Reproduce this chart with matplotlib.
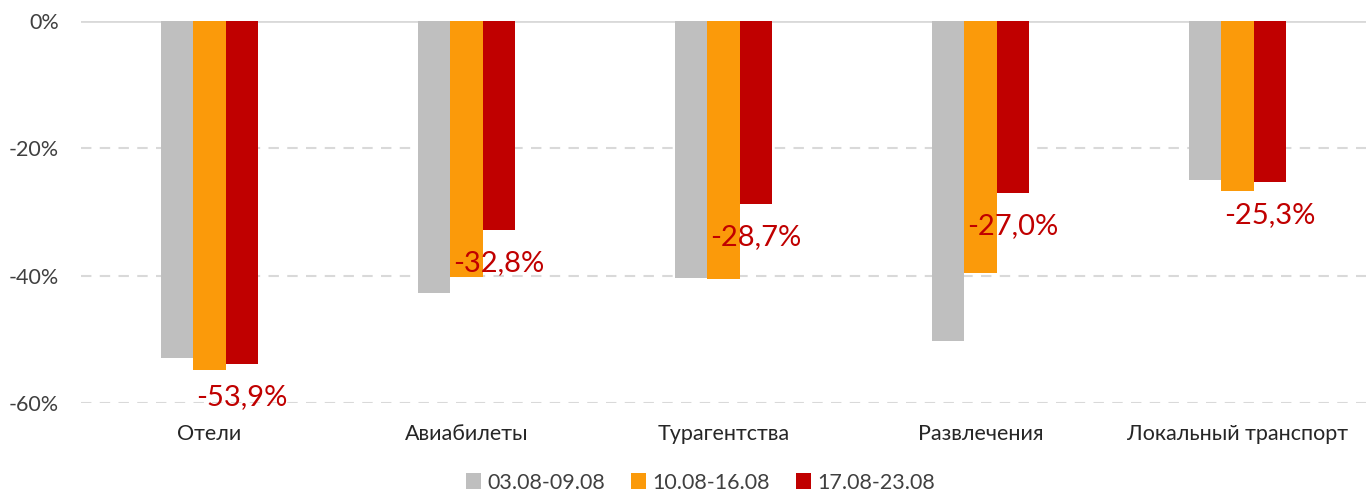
import matplotlib
matplotlib.use("Agg")
import matplotlib.pyplot as plt
import numpy as np

categories = ["Отели", "Авиабилеты", "Турагентства", "Развлечения", "Локальный транспорт"]
series_names = ["03.08-09.08", "10.08-16.08", "17.08-23.08"]
s1 = [-53.0, -42.8, -40.4, -50.3, -25.0]
s2 = [-54.8, -40.3, -40.5, -39.6, -26.8]
s3 = [-53.9, -32.8, -28.7, -27.0, -25.3]
colors = ["#bfbfbf", "#fb9a0a", "#c00000"]
yticks = [0, -20, -40, -60]

plt.rcParams['font.family'] = ['Lato', 'DejaVu Sans']

fig = plt.figure(figsize=(13.67, 4.98), dpi=100)
ax = fig.add_axes([81/1367, (498-403)/498, (1366-81)/1367, (403-20.7)/498])

x = np.arange(len(categories))
w = 0.125
for i, (vals, name, c) in enumerate(zip([s1, s2, s3], series_names, colors)):
    ax.bar(x + (i - 1) * w, vals, width=w, color=c, label=name, zorder=3)

for xi, v in zip(x, s3):
    ax.annotate(f"{v:.1f}%".replace('.', ','), xy=(xi + w, v), xytext=(0, -24),
                textcoords='offset points', ha='center', va='center',
                color="#c00000", fontsize=21, zorder=4)

ax.set_xlim(-0.5, len(categories) - 0.5)
ax.set_ylim(-60, 0)
ax.set_yticks(yticks)
ax.set_yticklabels([f"{t}%" for t in yticks])
for t in yticks[1:]:
    ax.axhline(t, color="#d9d9d9", lw=1.5, ls=(0, (5, 4)), zorder=1)
ax.axhline(0, color="#d9d9d9", lw=2, zorder=2)
ax.set_xticks(x)
ax.set_xticklabels(categories)
for s in ax.spines.values():
    s.set_visible(False)
ax.tick_params(axis='both', length=0, labelsize=15.5, colors="#404040")
ax.tick_params(axis='x', pad=15, labelcolor="#262626")
ax.tick_params(axis='y', pad=16)

fig.legend(loc='lower center', bbox_to_anchor=(0.5125, -0.028), ncol=3, frameon=False,
           fontsize=15.5, handlelength=0.7, handleheight=0.7, handletextpad=0.3,
           columnspacing=1.2, labelcolor="#404040")

fig.savefig("out.png", dpi=100)
